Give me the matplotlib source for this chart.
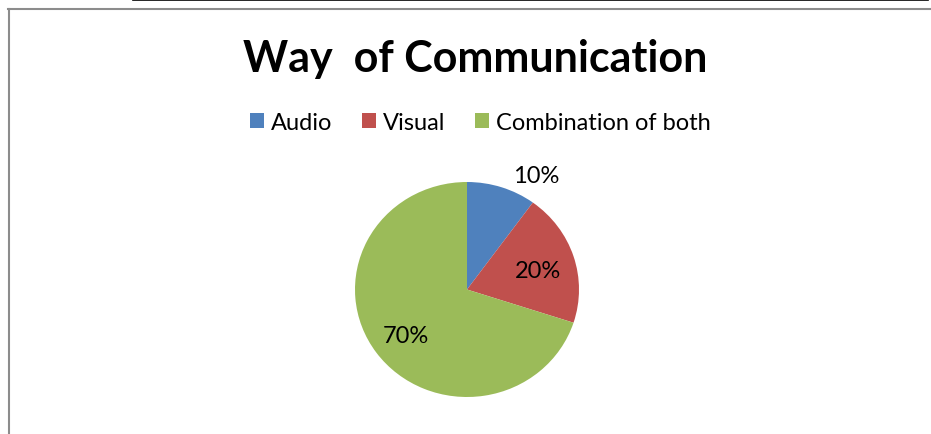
import matplotlib
matplotlib.use('Agg')
import matplotlib.pyplot as plt
from matplotlib.lines import Line2D

# survey results
labels = ['Audio', 'Visual', 'Combination of both']
shares = [10, 20, 70]
colors = ['#4F81BD', '#C0504D', '#9BBB59']

W, H = 931, 435
fig = plt.figure(figsize=(W / 100, H / 100), dpi=100)

# frame lines around the chart area
fig.add_artist(Line2D([133 / W, 928 / W], [1 - 0.8 / H, 1 - 0.8 / H], color='black', lw=1.2))
fig.add_artist(Line2D([8 / W, 1], [1 - 10 / H, 1 - 10 / H], color='#8c8c8c', lw=1.5))
fig.add_artist(Line2D([9 / W, 9 / W], [0, 1 - 10 / H], color='#8c8c8c', lw=1.5))

fig.text(475 / W, 1 - 72 / H, 'Way  of Communication', ha='center', va='baseline',
         fontsize=31, fontweight='bold', family=['Lato', 'DejaVu Sans'])

ax = fig.add_axes([355 / W, 37 / H, 224 / W, 215 / H])
wedges, texts, autotexts = ax.pie(shares, colors=colors, startangle=90, counterclock=False,
                                  autopct='%.0f%%', pctdistance=0.67,
                                  textprops=dict(fontsize=17, family='Lato', color='black'))
ax.set_aspect('auto')
ax.set_xlim(-1, 1)
ax.set_ylim(-1, 1)

# smallest slice gets its label outside the pie
autotexts[0].set_position((0.62, 1.09))
# nudge labels down a bit so the digits sit centred
for t in autotexts:
    x, y = t.get_position()
    t.set_position((x, y - 0.03))

fig.legend(wedges, labels, loc='center', bbox_to_anchor=(480.5 / W, 1 - 123 / H), ncol=3,
           frameon=False, prop=dict(family='Lato', size=17),
           handlelength=0.6, handleheight=0.6, handletextpad=0.3, columnspacing=1.25)

fig.savefig('out.png', dpi=100)
